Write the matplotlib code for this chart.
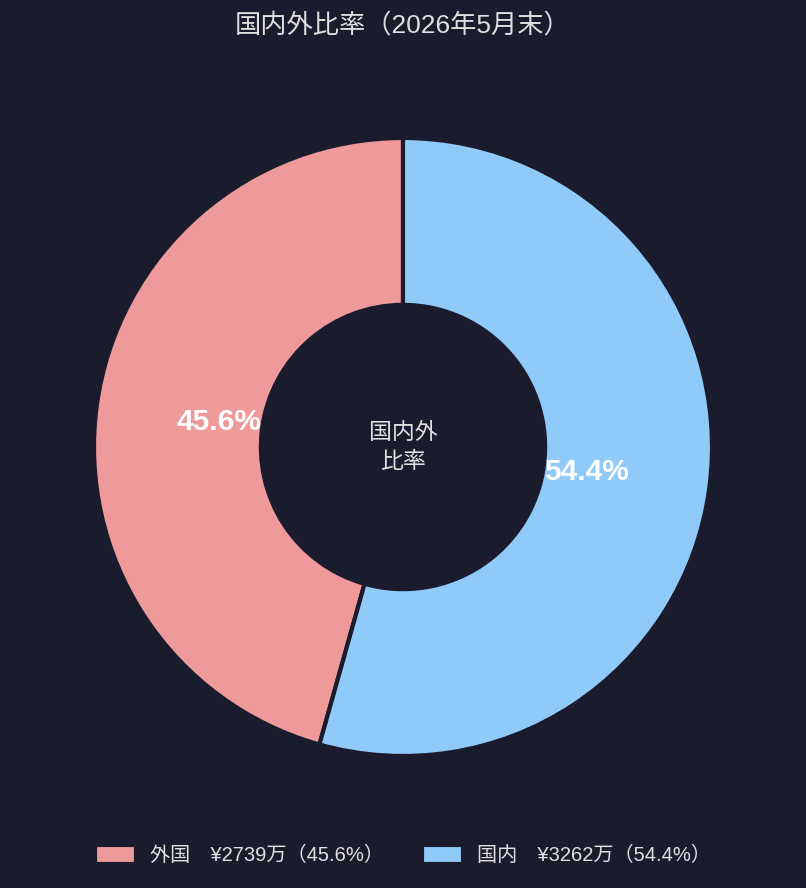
import matplotlib.pyplot as plt

plt.rcParams['font.family'] = ['Liberation Sans', 'Noto Sans CJK JP', 'DejaVu Sans']

# --- data ---
labels = ['外国', '国内']
amounts = [2739, 3262]          # 万円
shares = [45.6, 54.4]           # %
colors = ['#ef9a9a', '#90caf9']

bg = '#1b1b2e'
txt = '#e0e0e0'

fig = plt.figure(figsize=(8.06, 8.88), dpi=100, facecolor=bg)

# axes placed so that radius 1 ~ 309 px, centred at (403, 447)
r_px = 309
lim = 1.2
w = 2 * lim * r_px
ax = fig.add_axes([(403 - w / 2) / 806, (888 - 447 - w / 2) / 888, w / 806, w / 888])
ax.set_facecolor(bg)

wedges, _, autotexts = ax.pie(
    amounts, colors=colors, startangle=90, counterclock=True,
    autopct='%1.1f%%', pctdistance=0.6,
    wedgeprops=dict(width=0.54, edgecolor=bg, linewidth=3),
    textprops=dict(color='white', fontsize=21.5, fontweight='bold'),
)
ax.set_xlim(-lim, lim)
ax.set_ylim(-lim, lim)
ax.set_aspect('equal')
ax.axis('off')

ax.text(0, 0, '国内外\n比率', ha='center', va='center', color=txt,
        fontsize=16.5, linespacing=1.3)

fig.text(0.5, 1 - 25 / 888, '国内外比率（2026年5月末）', ha='center', va='center',
         color=txt, fontsize=18.9)

leg_labels = [f'{l}　¥{a}万（{s}%）' for l, a, s in zip(labels, amounts, shares)]
leg = fig.legend(wedges, leg_labels, loc='center', bbox_to_anchor=(0.5, 33 / 888),
                 ncol=2, frameon=False, fontsize=14.5, labelcolor=txt,
                 handlelength=2.05, handleheight=1.1, handletextpad=0.7,
                 columnspacing=1.85)

fig.savefig('out.png', dpi=100, facecolor=bg)
